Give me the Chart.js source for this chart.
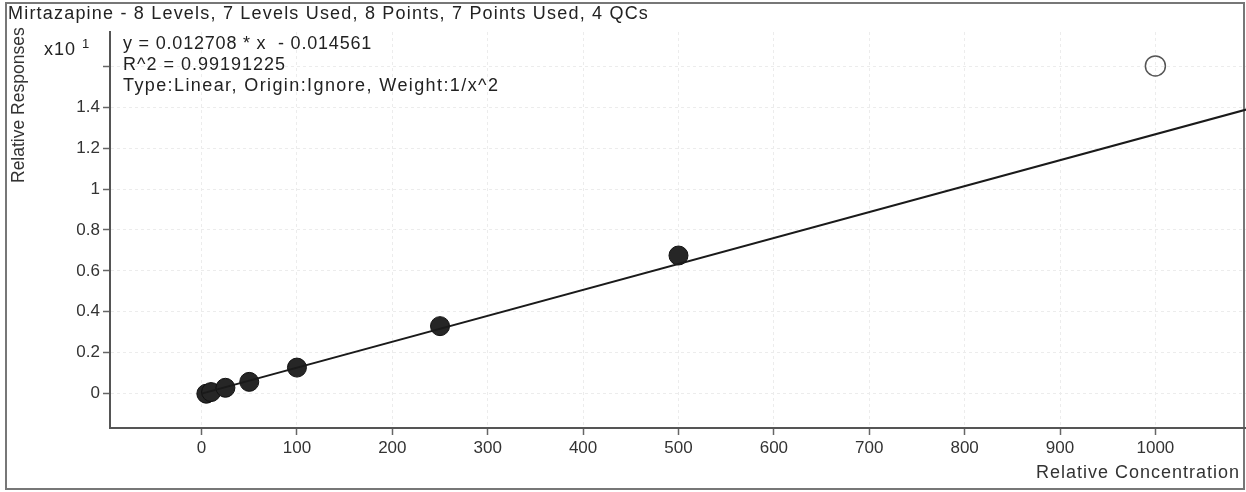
<!DOCTYPE html>
<html>
<head>
<meta charset="utf-8">
<script src="https://cdn.jsdelivr.net/npm/chart.js@4"></script>
<style>
  html, body { margin: 0; padding: 0; background: #fff; }
  body { width: 1246px; height: 492px; position: relative; overflow: hidden; font-family: "Liberation Sans", Arial, sans-serif; color: #222; }
  #frame { position: absolute; left: 5px; top: 2px; width: 1236px; height: 484px; border: 2px solid #777; }
  #wrap { position: absolute; left: 0; top: 0; width: 1246px; height: 492px; }
  .txt { position: absolute; white-space: nowrap; font-size: 18px; line-height: 20px; letter-spacing: 1px; }
  #ytitle { left: 8px; top: 183px; transform-origin: 0 0; transform: rotate(-90deg); letter-spacing: 0; font-size: 17.5px; color: #333; }
</style>
</head>
<body>
<div id="frame"></div>
<div id="wrap"><canvas id="calChart" width="1246" height="492"></canvas></div>
<div class="txt" style="left:8px; top:3px; letter-spacing:1.2px;">Mirtazapine - 8 Levels, 7 Levels Used, 8 Points, 7 Points Used, 4 QCs</div>
<div class="txt" style="left:44px; top:34px;">x10 <sup style="font-size:13px;">1</sup></div>
<div class="txt" style="left:123px; top:33px; letter-spacing:0.8px;">y = 0.012708 * x&nbsp; - 0.014561</div>
<div class="txt" style="left:123px; top:54px;">R^2 = 0.99191225</div>
<div class="txt" style="left:123px; top:75px; letter-spacing:1.4px;">Type:Linear, Origin:Ignore, Weight:1/x^2</div>
<div class="txt" style="right:6px; top:462px; color:#333;">Relative Concentration</div>
<div class="txt" id="ytitle">Relative Responses</div>
<script>
// calibration points (response shown in x10^1 units)
const calX = [5, 10, 25, 50, 100, 250, 500];
const calY = [-0.002, 0.006, 0.027, 0.056, 0.126, 0.329, 0.675];
// excluded point
const excX = [1000];
const excY = [1.604];
// fitted line end points
const fitX = [0, 1100];
const fitY = [-0.0015, 1.396];

const xTicks = [0, 100, 200, 300, 400, 500, 600, 700, 800, 900, 1000];
const yTicks = [0, 0.2, 0.4, 0.6, 0.8, 1, 1.2, 1.4, 1.6];
const yLabels = ['0', '0.2', '0.4', '0.6', '0.8', '1', '1.2', '1.4', ''];

const toPts = (xs, ys) => xs.map((x, i) => ({ x: x, y: ys[i] }));

const ctx = document.getElementById('calChart').getContext('2d');
const chart = new Chart(ctx, {
  type: 'scatter',
  data: {
    datasets: [
      {
        type: 'line',
        label: 'Fit',
        data: toPts(fitX, fitY),
        borderColor: '#1a1a1a',
        borderWidth: 2,
        pointRadius: 0,
        fill: false
      },
      {
        label: 'Used',
        data: toPts(calX, calY),
        backgroundColor: '#262626',
        borderColor: '#111',
        borderWidth: 1,
        pointRadius: 9.5
      },
      {
        label: 'Excluded',
        data: toPts(excX, excY),
        backgroundColor: 'rgba(255,255,255,0)',
        borderColor: '#555',
        borderWidth: 1.5,
        pointRadius: 10
      }
    ]
  },
  options: {
    responsive: false,
    animation: false,
    layout: { autoPadding: false, padding: { left: 8, top: 32, right: 0, bottom: 8 } },
    plugins: { legend: { display: false }, tooltip: { enabled: false } },
    scales: {
      x: {
        type: 'linear',
        min: -96,
        max: 1095,
        afterBuildTicks: s => { s.ticks = xTicks.map(v => ({ value: v })); },
        afterFit: s => { s.height = 56; },
        ticks: { color: '#333', font: { family: 'Liberation Sans', size: 17 }, padding: 3, maxRotation: 0, callback: v => String(v) },
        grid: { color: '#ececec', tickLength: 7, tickColor: '#666', tickWidth: 1.5 },
        border: { color: '#555', width: 2, dash: [3, 3] }
      },
      y: {
        type: 'linear',
        min: -0.17,
        max: 1.77,
        afterBuildTicks: s => { s.ticks = yTicks.map(v => ({ value: v })); },
        afterFit: s => { s.width = 102; },
        ticks: {
          color: '#333',
          font: { family: 'Liberation Sans', size: 17 },
          padding: 3,
          callback: (v) => { const i = yTicks.indexOf(v); return i >= 0 ? yLabels[i] : ''; }
        },
        grid: { color: '#ececec', tickLength: 7, tickColor: '#666', tickWidth: 1.5 },
        border: { color: '#555', width: 2, dash: [3, 3] }
      }
    }
  }
});
</script>
</body>
</html>
